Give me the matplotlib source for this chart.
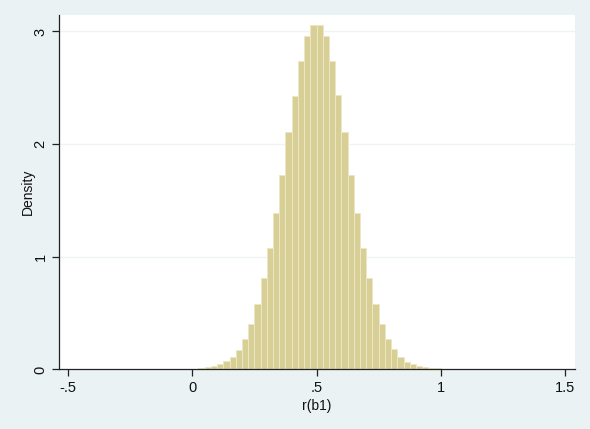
import numpy as np
import matplotlib
matplotlib.use('Agg')
from matplotlib import pyplot as plt

# Data: histogram of r(b1), bin width 0.025, densities
bin_width = 0.025
bin_left = [-0.05, -0.025, 0.0, 0.025, 0.05, 0.075, 0.1, 0.125, 0.15, 0.175,
            0.2, 0.225, 0.25, 0.275, 0.3, 0.325, 0.35, 0.375, 0.4, 0.425,
            0.45, 0.475, 0.5, 0.525, 0.55, 0.575, 0.6, 0.625, 0.65, 0.675,
            0.7, 0.725, 0.75, 0.775, 0.8, 0.825, 0.85, 0.875, 0.9, 0.925,
            0.95, 0.975, 1.0, 1.025]
density = [0.002, 0.004, 0.008, 0.014, 0.022, 0.033, 0.048, 0.072, 0.112, 0.172,
           0.267, 0.40, 0.585, 0.81, 1.08, 1.39, 1.73, 2.11, 2.43, 2.74,
           2.96, 3.06, 3.06, 2.96, 2.74, 2.44, 2.11, 1.73, 1.39, 1.08,
           0.81, 0.58, 0.40, 0.27, 0.18, 0.115, 0.07, 0.047, 0.033, 0.022,
           0.015, 0.01, 0.006, 0.003]

xticks = [-0.5, 0, 0.5, 1, 1.5]
xtick_labels = ['-.5', '0', '.5', '1', '1.5']
yticks = [0, 1, 2, 3]

plt.rcParams['font.family'] = ['Liberation Sans', 'DejaVu Sans']

bg = '#eaf2f3'
fig = plt.figure(figsize=(5.9, 4.29), dpi=100, facecolor=bg)
ax = fig.add_axes([0.0992, 0.1387, 0.8754, 0.8263])
ax.set_facecolor('white')

# grid
for y in yticks[1:]:
    ax.axhline(y, color='#eef3f3', lw=1.0, zorder=0)

ax.bar(bin_left, density, width=bin_width, align='edge',
       color='#d7cf95', edgecolor='#ede7c4', linewidth=0.7, zorder=2)

ax.set_xlim(-0.538, 1.54)
ax.set_ylim(0, 3.146)
ax.set_xticks(xticks)
ax.set_xticklabels(xtick_labels)
ax.set_yticks(yticks)
ax.set_yticklabels([str(v) for v in yticks], rotation=90, va='center')

for s in ['top', 'right']:
    ax.spines[s].set_visible(False)
for s in ['left', 'bottom']:
    ax.spines[s].set_color('#222222')
    ax.spines[s].set_linewidth(0.9)
ax.tick_params(direction='out', length=5, width=0.9, color='#222222',
               labelsize=10.5, labelcolor='#111111', pad=3)

ax.set_xlabel('r(b1)', fontsize=10, color='#111111', labelpad=3)
ax.set_ylabel('Density', fontsize=10, color='#111111', labelpad=-1)

fig.savefig('out.png', dpi=100, facecolor=bg)
